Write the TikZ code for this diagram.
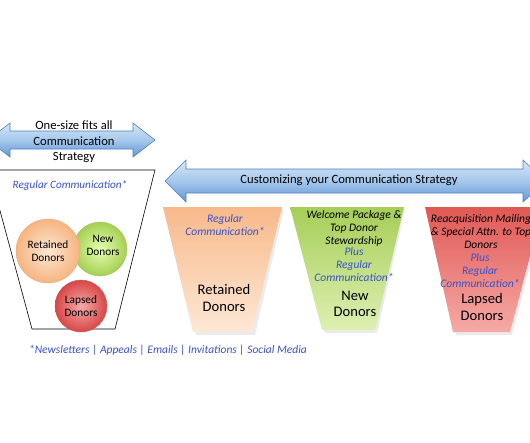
\documentclass[tikz,border=0pt]{standalone}
\usepackage{fontspec}
\setmainfont{Carlito}
\definecolor{txtblue}{RGB}{58,82,200}
\definecolor{arrline}{RGB}{80,128,190}
\definecolor{arrtop}{RGB}{214,230,247}
\definecolor{arrmid}{RGB}{165,200,236}
\definecolor{arrbot}{RGB}{100,150,214}
\tikzset{
  bluearrow/.style={draw=arrline, line width=0.6pt, top color=arrtop, bottom color=arrbot, middle color=arrmid},
  arrtext/.style={font=\fontsize{12.6}{15.5}\selectfont, align=center, inner sep=0pt},
  ital/.style={font=\fontsize{11.5}{13}\selectfont\itshape, align=center, inner sep=0pt},
  bluetext/.style={ital, text=txtblue},
  bigtext/.style={font=\fontsize{14.6}{16.5}\selectfont, align=center, inner sep=0pt},
  circtext/.style={font=\fontsize{11.3}{13}\selectfont, align=center, inner sep=0pt},
  funnel/.style={draw=none}
}
\begin{document}
\begin{tikzpicture}[x=1pt,y=-1pt]
\useasboundingbox (0,0) rectangle (530,442);
\clip (0,0) rectangle (530,442);
\fill[white] (0,0) rectangle (530,442);
% left double arrow
\draw[bluearrow] (-12,140)--(10,123)--(10,131)--(133,131)--(133,123)--(155,140)--(133,157)--(133,149)--(10,149)--(10,157)--cycle;
\node[arrtext] (onesize) at (74,142) {One-size fits all\\Communication\\Strategy};
% left funnel
\draw[line width=0.6pt, fill=white] (-11,170)--(155,170)--(115,329)--(32,329)--cycle;
\node[bluetext, font=\fontsize{11.2}{13}\selectfont\itshape] (regleft) at (70,185) {Regular Communication*};
% circles
\shade[inner color=green!10!lime!30!white, outer color={rgb,255:red,165;green,207;blue,82}, draw={rgb,255:red,160;green,195;blue,100}] (100,249) circle (27);
\shade[inner color={rgb,255:red,253;green,232;blue,212}, outer color={rgb,255:red,246;green,180;blue,128}, draw={rgb,255:red,230;green,175;blue,130}] (48,251) circle (32);
\shade[inner color={rgb,255:red,244;green,170;blue,170}, outer color={rgb,255:red,216;green,70;blue,70}, draw={rgb,255:red,200;green,90;blue,90}] (81,306) circle (26);
\node[circtext] (cret) at (48,251) {Retained\\Donors};
\node[circtext] (cnew) at (103,245) {New\\Donors};
\node[circtext] (clap) at (81,306) {Lapsed\\Donors};
% big arrow
\draw[bluearrow] (165,181)--(186,160)--(186,169)--(523,169)--(523,160)--(546,181)--(523,202)--(523,193)--(186,193)--(186,202)--cycle;
\node[arrtext] (custom) at (349,180) {Customizing your Communication Strategy};
% funnels
\fill[black, opacity=0.08] (165,209)--(284,209)--(255,335)--(196,335)--cycle;
\shade[funnel, top color={rgb,255:red,247;green,185;blue,138}, bottom color={rgb,255:red,253;green,232;blue,214}] (163,207)--(282,207)--(252,332)--(193,332)--cycle;
\fill[black, opacity=0.08] (292,209)--(405,209)--(377,333)--(325,333)--cycle;
\shade[funnel, top color={rgb,255:red,166;green,206;blue,88}, bottom color={rgb,255:red,222;green,240;blue,178}] (290,207)--(404,207)--(375,330)--(322,330)--cycle;
\fill[black, opacity=0.08] (427,209)--(545,209)--(512,335)--(456,335)--cycle;
\shade[funnel, top color={rgb,255:red,224;green,88;blue,84}, bottom color={rgb,255:red,246;green,170;blue,166}] (425,207)--(543,207)--(510,332)--(453,332)--cycle;
% retained funnel text
\node[bluetext] (rreg) at (225,225) {Regular\\Communication*};
\node[bigtext] (rdon) at (224,298) {Retained\\Donors};
% new funnel text
\node[ital] (nwel) at (354,228) {Welcome Package \&\\Top Donor\\Stewardship};
\node[bluetext] (nreg) at (354,265) {Plus\\Regular\\Communication*};
\node[bigtext] (ndon) at (355,304) {New\\Donors};
% lapsed funnel text
\node[ital] (lrea) at (481,232) {Reacquisition Mailing\\\& Special Attn. to Top\\Donors};
\node[bluetext] (lreg) at (480,271) {Plus\\Regular\\Communication*};
\node[bigtext] (ldon) at (482,307) {Lapsed\\Donors};
% footnote
\node[bluetext] (note) at (168,350) {*Newsletters | Appeals | Emails | Invitations | Social Media};
\end{tikzpicture}
\end{document}
